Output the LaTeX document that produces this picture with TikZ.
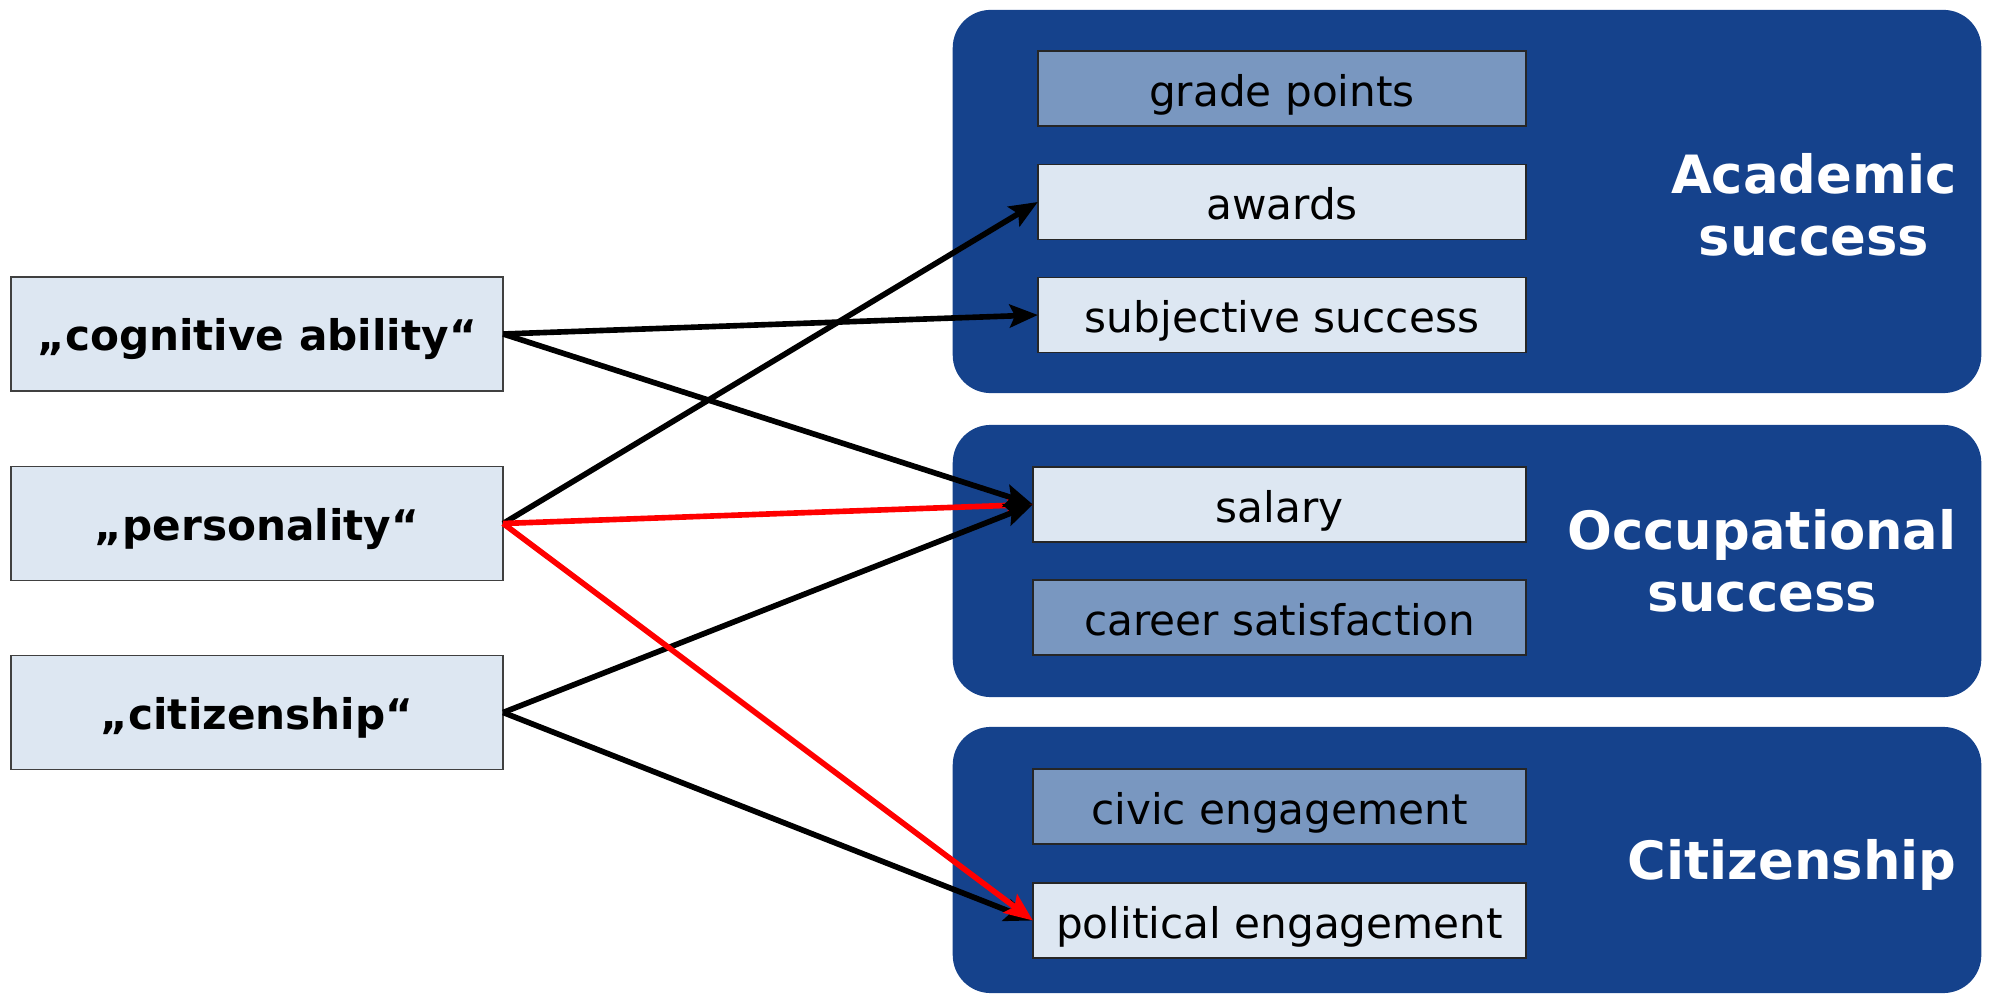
\documentclass[tikz,border=0pt]{standalone}
\usepackage{fontspec}
\setmainfont{DejaVu Sans}
\usepackage{tikz}
\usetikzlibrary{arrows.meta,positioning}
\definecolor{panelblue}{RGB}{21,66,140}
\definecolor{boxlight}{RGB}{221,231,242}
\definecolor{boxmid}{RGB}{121,151,192}
\tikzset{
    panel/.style={
        rectangle,
        rounded corners=0.38cm,
        fill=panelblue,
        minimum width=10.28cm,
        inner sep=0pt,
        outer sep=0pt,
    },
    title/.style={
        anchor=east,
        align=center,
        text=white,
        font=\fontsize{15}{17.6}\selectfont\bfseries,
    },
    factor/.style={
        rectangle,
        draw=black!75,
        thin,
        fill=boxlight,
        minimum width=4.92cm,
        minimum height=1.14cm,
        inner sep=0pt,
        outer sep=0pt,
        text height=11pt,
        text depth=1.5pt,
        font=\fontsize{12}{14}\selectfont\bfseries,
    },
    outcome/.style={
        rectangle,
        draw=black!85,
        thin,
        fill=boxlight,
        minimum height=0.75cm,
        inner sep=0pt,
        outer sep=0pt,
        text height=11.5pt,
        text depth=1.5pt,
        font=\fontsize{12}{14}\selectfont,
    },
    weak/.style={
        outcome,
        fill=boxmid,
    },
    every edge/.style={
        draw,
        -{Stealth[length=8pt,width=6.5pt,inset=1.5pt]},
        line width=1.6pt,
    },
}

\begin{document}
\begin{tikzpicture}[x=0.01cm,y=-0.01cm]
    \useasboundingbox (0,0) rectangle (1989,995);
    % outcome panels
    \node [panel, minimum height=3.83cm] (ACAD) at (1467,201.5) {};
    \node [panel, minimum height=2.72cm] (OCC) at (1467,561) {};
    \node [panel, minimum height=2.66cm] (CIT) at (1467,860) {};
    \node [title] at (1969,205) {Academic\\success};
    \node [title] at (1969,561) {Occupational\\success};
    \node [title] at (1969,865) {Citizenship};
    % indicators
    \node [weak, minimum width=4.88cm] (GP) at (1282,88.5) {grade points};
    \node [outcome, minimum width=4.88cm] (AW) at (1282,202) {awards};
    \node [outcome, minimum width=4.88cm] (SUBJ) at (1282,315) {subjective success};
    \node [outcome, minimum width=4.93cm] (SAL) at (1279.5,504.5) {salary};
    \node [weak, minimum width=4.93cm] (CAR) at (1279.5,617.5) {career satisfaction};
    \node [weak, minimum width=4.93cm] (CIV) at (1279.5,806.5) {civic engagement};
    \node [outcome, minimum width=4.93cm] (POL) at (1279.5,920.5) {political engagement};
    % predictors
    \node [factor] (COG) at (257,334) {„cognitive ability“};
    \node [factor] (PERS) at (257,523.5) {„personality“};
    \node [factor] (CITZ) at (257,712.5) {„citizenship“};
    % paths
    \draw (COG.east) edge (SUBJ.west);
    \draw (PERS.east) edge (AW.west);
    \draw (PERS.east) edge[red] (SAL.west);
    \draw (COG.east) edge (SAL.west);
    \draw (CITZ.east) edge (SAL.west);
    \draw (CITZ.east) edge (POL.west);
    \draw (PERS.east) edge[red] (POL.west);
\end{tikzpicture}
\end{document}
